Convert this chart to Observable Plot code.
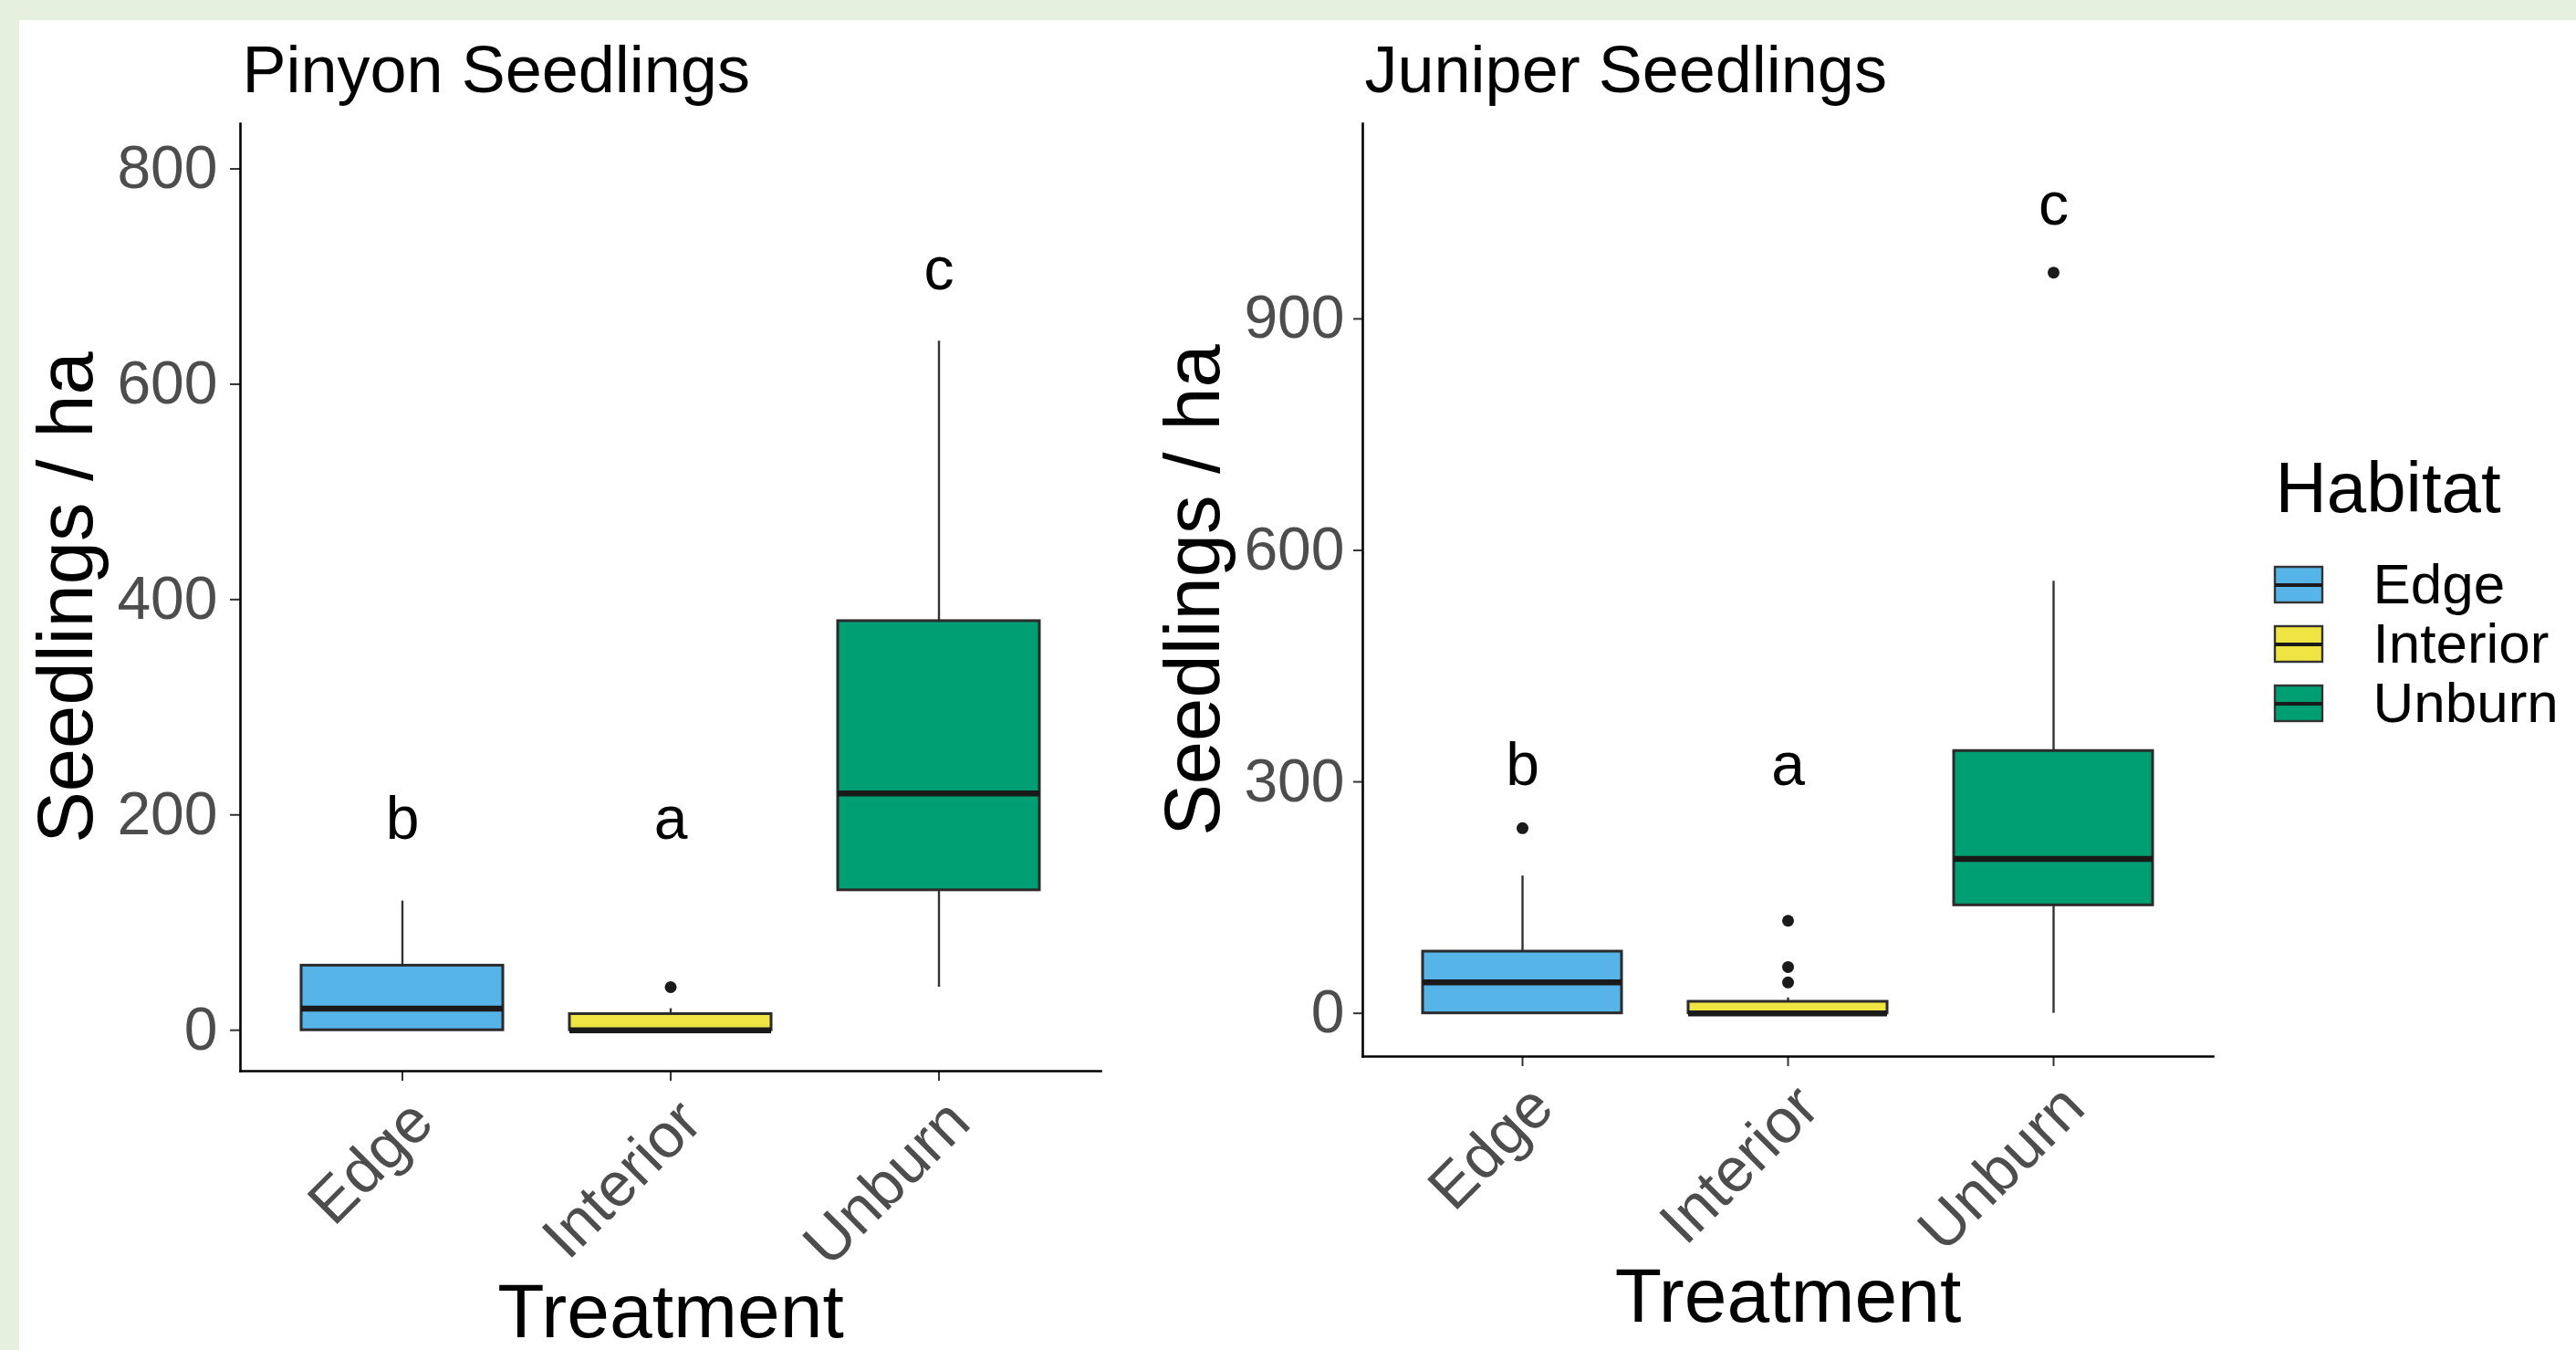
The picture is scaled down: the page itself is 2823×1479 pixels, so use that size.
<!DOCTYPE html>
<html>
<head>
<meta charset="utf-8">
<script src="https://cdn.jsdelivr.net/npm/d3@7"></script>
<script src="https://cdn.jsdelivr.net/npm/@observablehq/plot@0.6"></script>
<style>
  html, body { margin: 0; padding: 0; }
  body { width: 2823px; height: 1479px; overflow: hidden; }
  #wrap { position: relative; width: 2823px; height: 1479px; background: #e5f0df; }
  #panel { position: absolute; left: 21px; top: 22px; right: 0; bottom: 0; background: #ffffff; }
  .slot { position: absolute; top: 0; }
  .slot svg { background: transparent !important; overflow: visible; max-width: none !important; }
</style>
</head>
<body>
<div id="wrap">
  <div id="panel"></div>
  <div class="slot" id="left" style="left:0px"></div>
  <div class="slot" id="right" style="left:1240px"></div>
  <div class="slot" id="legend" style="left:2440px; top:440px"></div>
</div>
<script>
// ---------- data ----------
const habitats = ["Edge", "Interior", "Unburn"];
const habitatColors = ["#56B4E9", "#F0E442", "#009E73"];

// Pinyon seedlings (seedlings / ha)
const pinyonLower  = [0, 0, 40];
const pinyonQ1     = [0, 0, 130];
const pinyonMedian = [20, 0, 220];
const pinyonQ3     = [60, 15, 380];
const pinyonUpper  = [120, 20, 640];
const pinyonOutliers = [[], [40], []];
const pinyonLetters = ["b", "a", "c"];
const pinyonLetterY = [178, 178, 688];
const pinyonTicks = [0, 200, 400, 600, 800];
const pinyonDomain = [-38, 842];

// Juniper seedlings (seedlings / ha)
const juniperLower  = [0, 0, 0];
const juniperQ1     = [0, 0, 140];
const juniperMedian = [40, 0, 200];
const juniperQ3     = [80, 15, 340];
const juniperUpper  = [178, 20, 560];
const juniperOutliers = [[240], [40, 60, 120], [960]];
const juniperLetters = ["b", "a", "c"];
const juniperLetterY = [296, 296, 1022];
const juniperTicks = [0, 300, 600, 900];
const juniperDomain = [-56, 1153];

const FONT = "'Liberation Sans', Arial, Helvetica, sans-serif";

function buildRows(lower, q1, med, q3, upper, letters, letterY) {
  return habitats.map((h, i) => ({
    habitat: h, lower: lower[i], q1: q1[i], median: med[i], q3: q3[i], upper: upper[i],
    letter: letters[i], letterY: letterY[i]
  }));
}
function buildOutliers(list) {
  const out = [];
  list.forEach((vals, i) => vals.forEach(v => out.push({habitat: habitats[i], value: v})));
  return out;
}

function panel(cfg) {
  const rows = buildRows(cfg.lower, cfg.q1, cfg.median, cfg.q3, cfg.upper, cfg.letters, cfg.letterY);
  const outs = buildOutliers(cfg.outliers);
  return Plot.plot({
    width: cfg.width,
    height: 1479,
    marginLeft: cfg.ml, marginRight: cfg.mr, marginTop: cfg.mt, marginBottom: cfg.mb,
    style: {background: "transparent", fontFamily: FONT, overflow: "visible"},
    x: {type: "band", domain: habitats, paddingInner: 0.25, paddingOuter: 0.225, align: 0.5},
    y: {domain: cfg.domain},
    color: {domain: habitats, range: habitatColors},
    marks: [
      // whiskers
      Plot.ruleX(rows, {x: "habitat", y1: "lower", y2: "q1", stroke: "#333333", strokeWidth: 2.4}),
      Plot.ruleX(rows, {x: "habitat", y1: "q3", y2: "upper", stroke: "#333333", strokeWidth: 2.4}),
      // boxes
      Plot.barY(rows, {x: "habitat", y1: "q1", y2: "q3", fill: "habitat", stroke: "#2b2b2b", strokeWidth: 3}),
      // medians
      Plot.tickY(rows, {x: "habitat", y: "median", stroke: "#1a1a1a", strokeWidth: 6.5}),
      // outliers
      Plot.dot(outs, {x: "habitat", y: "value", r: 6.5, fill: "#1a1a1a", stroke: null}),
      // significance letters
      Plot.text(rows, {x: "habitat", y: "letterY", text: "letter", fontSize: 66, lineAnchor: "bottom", fill: "#000"}),
      // axes
      Plot.axisY({ticks: cfg.ticks, tickSize: cfg.tickSize, tickPadding: cfg.tickPad, fontSize: 66,
                  stroke: "#333333", fill: "#4d4d4d", strokeWidth: 2, label: null}),
      Plot.axisX({tickSize: 11, tickFormat: () => "", stroke: "#333333", strokeWidth: 2, label: null}),
      Plot.text(habitats, {x: d => d, frameAnchor: "bottom", rotate: -45, textAnchor: "end",
                           lineAnchor: "top", dx: 3, dy: 25, fontSize: 68, fill: "#4d4d4d"}),
      Plot.frame({anchor: "left", stroke: "#000", strokeWidth: 2.6}),
      Plot.frame({anchor: "bottom", stroke: "#000", strokeWidth: 2.6}),
      // titles
      Plot.text([cfg.title], {frameAnchor: "top-left", dx: 2, dy: 100 - cfg.mt, textAnchor: "start",
                              lineAnchor: "bottom", fontSize: 72, fill: "#000"}),
      Plot.text(["Seedlings / ha"], {frameAnchor: "left", rotate: -90, dx: cfg.yTitleDx, textAnchor: "middle",
                                     lineAnchor: "bottom", fontSize: 85, fill: "#000"}),
      Plot.text(["Treatment"], {frameAnchor: "bottom", dy: cfg.xTitleDy, textAnchor: "middle", lineAnchor: "bottom",
                                fontSize: 84, fill: "#000"})
    ]
  });
}

document.getElementById("left").append(panel({
  width: 1240, ml: 263, mr: 34, mt: 135, mb: 306,
  domain: pinyonDomain, ticks: pinyonTicks, tickSize: 11, tickPad: 14,
  lower: pinyonLower, q1: pinyonQ1, median: pinyonMedian, q3: pinyonQ3, upper: pinyonUpper,
  outliers: pinyonOutliers, letters: pinyonLetters, letterY: pinyonLetterY,
  title: "Pinyon Seedlings", yTitleDx: -163, xTitleDy: 291
}));

document.getElementById("right").append(panel({
  width: 1200, ml: 253, mr: 15, mt: 135, mb: 322,
  domain: juniperDomain, ticks: juniperTicks, tickSize: 10, tickPad: 10,
  lower: juniperLower, q1: juniperQ1, median: juniperMedian, q3: juniperQ3, upper: juniperUpper,
  outliers: juniperOutliers, letters: juniperLetters, letterY: juniperLetterY,
  title: "Juniper Seedlings", yTitleDx: -158, xTitleDy: 290
}));

// ---------- legend ----------
const legend = Plot.plot({
  width: 383, height: 400,
  marginLeft: 0, marginRight: 0, marginTop: 0, marginBottom: 0,
  style: {background: "transparent", fontFamily: FONT, overflow: "visible"},
  x: {domain: [0, 383], range: [0, 383], axis: null},
  y: {type: "band", domain: habitats, range: [168, 363], padding: 0, axis: null},
  color: {domain: habitats, range: habitatColors},
  marks: [
    Plot.ruleX(habitats, {x: () => 79, y: d => d, insetTop: 5, insetBottom: 5, stroke: "#333333", strokeWidth: 2.4}),
    Plot.barX(habitats, {y: d => d, x1: () => 53, x2: () => 105, insetTop: 13, insetBottom: 13,
                         fill: d => d, stroke: "#333333", strokeWidth: 2.4}),
    Plot.ruleY(habitats, {y: d => d, x1: () => 53, x2: () => 105, stroke: "#1a1a1a", strokeWidth: 4}),
    Plot.text(habitats, {y: d => d, x: () => 160, textAnchor: "start", fontSize: 62, fill: "#000"}),
    Plot.text(["Habitat"], {frameAnchor: "top-left", dx: 53, dy: 120, textAnchor: "start",
                            lineAnchor: "bottom", fontSize: 78, fill: "#000"})
  ]
});
document.getElementById("legend").append(legend);
</script>
</body>
</html>
